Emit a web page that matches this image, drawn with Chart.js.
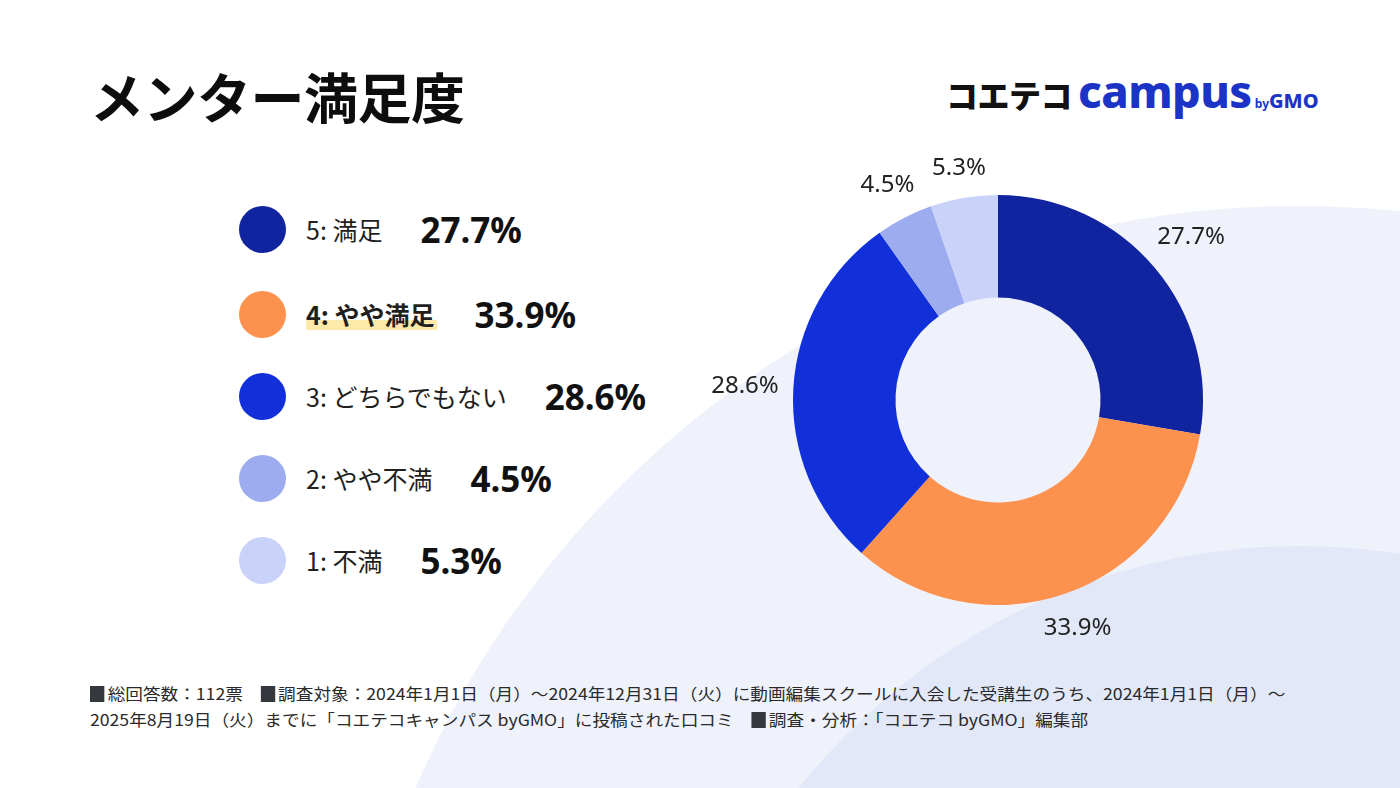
<!DOCTYPE html>
<html lang="ja">
<head>
<meta charset="utf-8">
<title>メンター満足度</title>
<script src="https://cdn.jsdelivr.net/npm/chart.js@4/dist/chart.umd.min.js"></script>
<style>
  html, body { margin: 0; padding: 0; }
  body {
    width: 1400px; height: 788px; overflow: hidden; position: relative;
    background: #ffffff;
    font-family: "Noto Sans CJK JP", "Noto Sans", sans-serif;
    color: #1a1a1a;
  }
  .bg-circle { position: absolute; border-radius: 50%; }
  .bg-big { left: 338px; top: 206px; width: 1920px; height: 1920px; background: #eff2fb; }
  .bg-small { left: 660px; top: 546px; width: 1280px; height: 1280px; background: #e3e8f8; }

  .title {
    position: absolute; left: 90px; top: 56px;
    font-size: 54px; font-weight: 700; letter-spacing: -0.5px; color: #0d0d0d;
  }
  .logo { position: absolute; left: 946px; top: 60px; white-space: nowrap; }
  .logo .jp { font-size: 32px; font-weight: 900; color: #111; letter-spacing: -0.5px; }
  .logo .en { font-family: "Noto Sans", sans-serif; font-size: 45px; font-weight: 800; color: #1b34c6; letter-spacing: -0.5px; margin-left: 6px; }
  .logo .by { font-family: "Noto Sans", sans-serif; font-size: 12px; font-weight: 700; color: #1b34c6; margin-left: 3px; }
  .logo .gmo { font-family: "Noto Sans", sans-serif; font-size: 20px; font-weight: 800; color: #1b34c6; }

  #legend { position: absolute; left: 239px; top: 188px; }
  .row { display: flex; align-items: center; height: 82px; }
  .row:nth-child(2) { margin-top: 3px; }
  .dot { width: 47px; height: 47px; border-radius: 50%; flex: none; }
  .lab { font-size: 25px; line-height: 32px; margin-left: 20px; color: #1f1f1f; white-space: nowrap; }
  .lab.hl { font-weight: 700; background: linear-gradient(transparent 70%, #fde9aa 70%, #fde9aa 100%); padding-right: 2px; }
  .pct { font-family: "Noto Sans", sans-serif; font-size: 35px; font-weight: 700; margin-left: 38px; color: #111; white-space: nowrap; }

  .chart-box { position: absolute; left: 648px; top: 140px; width: 700px; height: 520px; }

  .note {
    position: absolute; left: 90px; top: 680px;
    font-size: 16px; line-height: 26px; color: #2a2a2a; white-space: nowrap;
    transform-origin: 0 0;
  }
  .note .sq { display: inline-block; width: 13px; height: 16px; background: #35383d; margin-right: 3px; vertical-align: -2px; }
</style>
</head>
<body>
<div class="bg-circle bg-big"></div>
<div class="bg-circle bg-small"></div>

<div class="title">メンター満足度</div>
<div class="logo"><span class="jp">コエテコ</span><span class="en">campus</span><span class="by">by</span><span class="gmo">GMO</span></div>

<div id="legend"></div>

<div class="chart-box"><canvas id="donut"></canvas></div>

<div class="note" id="note">
  <div id="note1"><span class="sq"></span>総回答数：112票　<span class="sq"></span>調査対象：2024年1月1日（月）～2024年12月31日（火）に動画編集スクールに入会した受講生のうち、2024年1月1日（月）～</div>
  <div>2025年8月19日（火）までに「コエテコキャンパス byGMO」に投稿された口コミ　<span class="sq"></span>調査・分析：「コエテコ byGMO」編集部</div>
</div>

<script>
  // satisfaction levels, top of legend first (also clockwise order in the ring)
  var categories = ['5: 満足', '4: やや満足', '3: どちらでもない', '2: やや不満', '1: 不満'];
  var shares = [27.7, 33.9, 28.6, 4.5, 5.3];
  var colors = ['#11249f', '#fd914e', '#1130da', '#9dabef', '#c9d3fa'];
  var highlighted = '4: やや満足';

  // left legend built from the same arrays
  var legend = document.getElementById('legend');
  categories.forEach(function (cat, i) {
    var row = document.createElement('div');
    row.className = 'row';
    row.innerHTML =
      '<span class="dot" style="background:' + colors[i] + '"></span>' +
      '<span class="lab' + (cat === highlighted ? ' hl' : '') + '">' + cat + '</span>' +
      '<span class="pct">' + shares[i].toFixed(1) + '%</span>';
    legend.appendChild(row);
  });

  // squeeze the footnote to the width it has in the slide
  var note = document.getElementById('note');
  var w = document.getElementById('note1').scrollWidth;
  if (w > 0) note.style.transform = 'scaleX(' + (1195 / w) + ')';

  // labels outside the ring, pushed out by the size of the text
  var outsideLabels = {
    id: 'outsideLabels',
    afterDatasetsDraw: function (chart) {
      var ctx = chart.ctx;
      var meta = chart.getDatasetMeta(0);
      ctx.save();
      ctx.font = '400 24px "Noto Sans", "Noto Sans CJK JP", sans-serif';
      ctx.fillStyle = '#222';
      ctx.textAlign = 'center';
      ctx.textBaseline = 'middle';
      meta.data.forEach(function (arc, i) {
        var p = arc.getProps(['x', 'y', 'startAngle', 'endAngle', 'outerRadius'], true);
        var mid = (p.startAngle + p.endAngle) / 2;
        var txt = shares[i].toFixed(1) + '%';
        var tw = ctx.measureText(txt).width;
        var r = p.outerRadius + 14 + Math.abs(Math.cos(mid)) * tw / 2 + Math.abs(Math.sin(mid)) * 12;
        ctx.fillText(txt, p.x + Math.cos(mid) * r, p.y + Math.sin(mid) * r);
      });
      ctx.restore();
    }
  };

  new Chart(document.getElementById('donut').getContext('2d'), {
    type: 'doughnut',
    data: {
      labels: categories,
      datasets: [{
        data: shares,
        backgroundColor: colors,
        borderWidth: 0,
      }]
    },
    options: {
      responsive: true,
      maintainAspectRatio: false,
      animation: false,
      cutout: '50%',
      layout: { padding: { top: 55, bottom: 55 } },
      plugins: {
        legend: { display: false },
        tooltip: { enabled: false },
      }
    },
    plugins: [outsideLabels]
  });
</script>
</body>
</html>
